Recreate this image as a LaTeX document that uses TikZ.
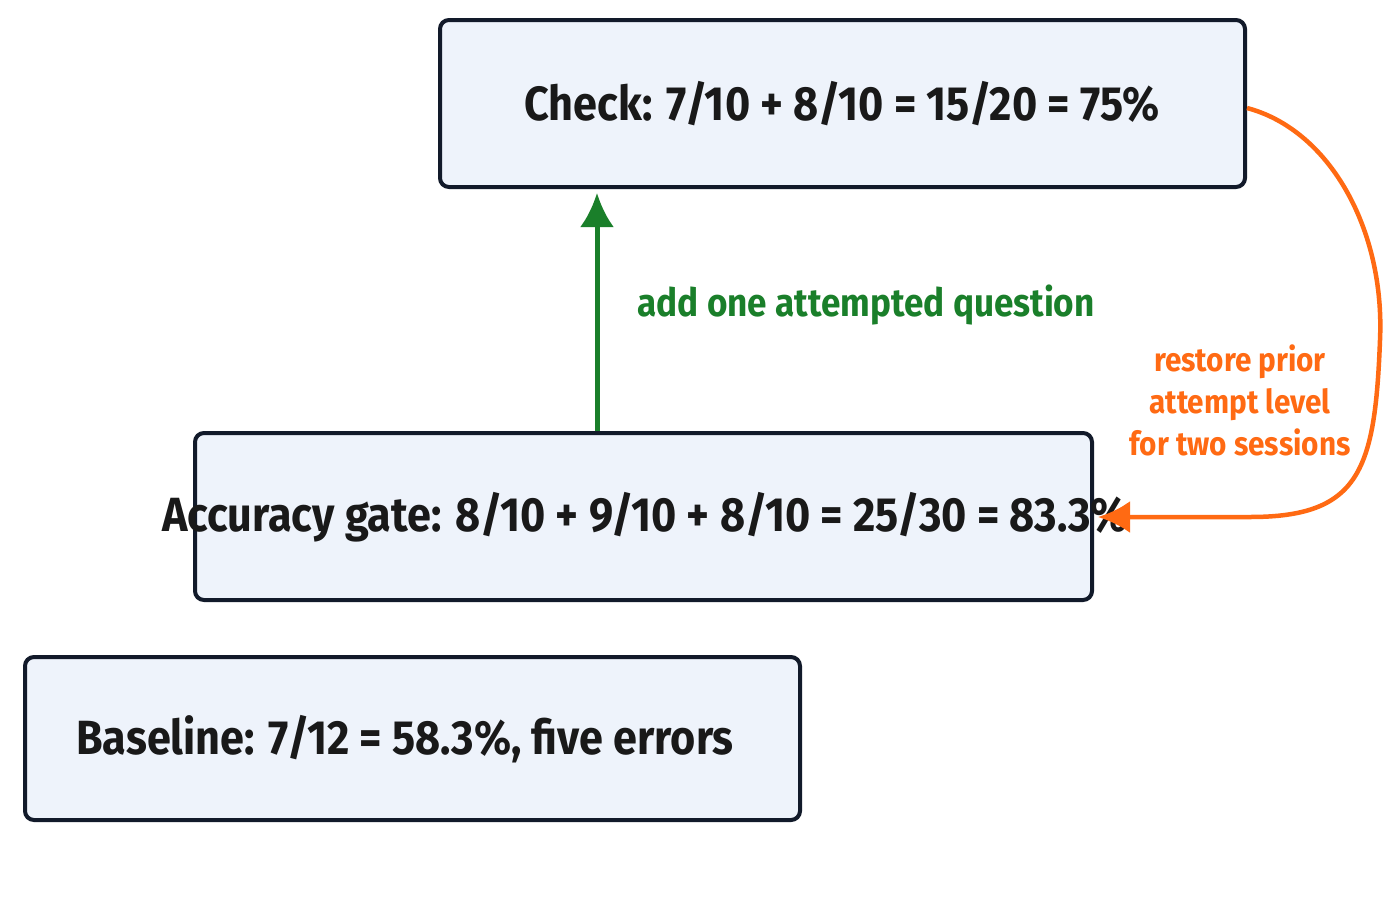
\documentclass[tikz,border=0pt]{standalone}
\usepackage{fontspec}
\usetikzlibrary{arrows.meta}
\setmainfont{Fira Sans}[FakeStretch=0.9]
\begin{document}
\begin{tikzpicture}[x=1pt,y=-1pt,
  box/.style={draw=boxline,fill=boxfill,line width=4pt,rounded corners=9pt,inner sep=0pt},
  txt/.style={font=\fontsize{48}{52}\selectfont\bfseries,text=black!90}]
\definecolor{boxline}{HTML}{121A2A}
\definecolor{boxfill}{HTML}{EEF3FB}
\definecolor{gr}{HTML}{1A7F2A}
\definecolor{orng}{HTML}{FF6A13}
\useasboundingbox (0,0) rectangle (1400,900);
\fill[white] (0,0) rectangle (1400,900);
\draw[box] (440,20) rectangle (1245,187);
\node[txt] (check) at (842,104) {Check: 7/10 + 8/10 = 15/20 = 75\%};
\draw[box] (195,433) rectangle (1092,600);
\node[txt] (acc) at (645,517) {Accuracy gate: 8/10 + 9/10 + 8/10 = 25/30 = 83.3\%};
\draw[box] (25,657) rectangle (800,820);
\node[txt] (base) at (405,739) {Baseline: 7/12 = 58.3\%, five errors};
\coordinate (gs) at (597,431);
\coordinate (ge) at (597,193);
\draw[gr,line width=5pt,-{Latex[length=34pt,width=34pt]}] (gs) -- (ge);
\node[anchor=west,text=gr,font=\fontsize{39}{44}\selectfont\bfseries] (gl) at (634,305) {add one attempted question};
\coordinate (os) at (1247,108);
\coordinate (oe) at (1098,517);
\draw[orng,line width=4.5pt,-{Latex[length=32pt,width=32pt]}] (os) .. controls (1330,130) and (1385,230) .. (1380,340) .. controls (1375,470) and (1360,517) .. (1250,517) -- (oe);
\node[text=orng,align=center,font=\fontsize{33}{42}\selectfont\bfseries] (ol) at (1240,400) {restore prior\\attempt level\\for two sessions};
\end{tikzpicture}
\end{document}
